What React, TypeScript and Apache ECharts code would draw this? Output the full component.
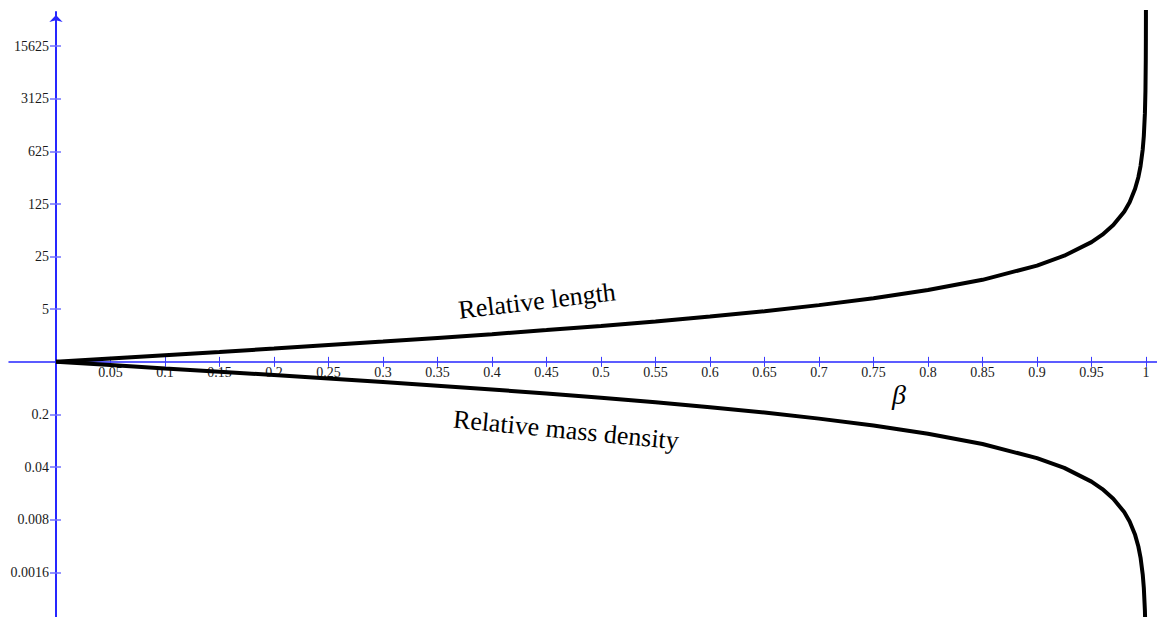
import React, { useEffect, useRef } from "react";
import * as echarts from "echarts";

// β values (x) at which the curves were read
const beta = [
  0, 0.05, 0.1, 0.15, 0.2, 0.25, 0.3, 0.35, 0.4, 0.45, 0.5, 0.55, 0.6, 0.65,
  0.7, 0.75, 0.8, 0.85, 0.9, 0.925, 0.95, 0.96, 0.97, 0.98, 0.985, 0.99,
  0.993, 0.995, 0.997, 0.998, 0.999, 0.9995, 0.9998, 0.9999, 0.99995, 0.99999,
];
// Relative length
const relativeLength = [
  1, 1.105, 1.22, 1.35, 1.5, 1.67, 1.86, 2.08, 2.33, 2.64, 3.0, 3.44, 4.0,
  4.71, 5.67, 7.0, 9.0, 12.3, 19, 25.7, 39, 49, 65.7, 99, 132, 199, 284, 399,
  665, 999, 1999, 3999, 9999, 19999, 39999, 199999,
];
// Relative mass density
const relativeMassDensity = [
  1, 0.905, 0.818, 0.741, 0.667, 0.6, 0.538, 0.481, 0.429, 0.379, 0.333, 0.29,
  0.25, 0.212, 0.176, 0.143, 0.111, 0.081, 0.0526, 0.039, 0.0256, 0.0204,
  0.0152, 0.0101, 0.00756, 0.00503, 0.00352, 0.00251, 0.0015, 0.001, 0.0005,
  0.00025, 0.0001, 0.00005, 0.000025, 0.000005,
];

// Axis tick values
const xTickValues = [
  0.05, 0.1, 0.15, 0.2, 0.25, 0.3, 0.35, 0.4, 0.45, 0.5, 0.55, 0.6, 0.65, 0.7,
  0.75, 0.8, 0.85, 0.9, 0.95, 1,
];
const yTickValues = [0.0016, 0.008, 0.04, 0.2, 5, 25, 125, 625, 3125, 15625];
const yTickLabels = ["0.0016", "0.008", "0.04", "0.2", "5", "25", "125", "625", "3125", "15625"];

const LOG_BASE = 5;
const log5 = (v: number) => Math.log(v) / Math.log(LOG_BASE);
const yTickExps = yTickValues.map((v) => Math.round(log5(v)));

const X_MIN = -0.0431;
const X_MAX = 1.0101;
const Y_MIN = -4.85;
const Y_MAX = 6.65;

const W = 1157;
const H = 617;
const GRID = { left: 9, right: 0, top: 12, bottom: 0 };

const AXIS_BLUE = "#2626ff";
const FONT = "'Liberation Serif', 'Times New Roman', serif";

export default function App() {
  const ref = useRef<HTMLDivElement>(null);

  useEffect(() => {
    if (!ref.current) return;
    const chart = echarts.init(ref.current, null, { renderer: "svg" });

    const lengthData = beta.map((b, i) => [b, log5(relativeLength[i])]);
    const densityData = beta.map((b, i) => [b, log5(relativeMassDensity[i])]);

    const yLabelFormatter = (v: number) => {
      const idx = yTickExps.indexOf(Math.round(v));
      return idx >= 0 ? yTickLabels[idx] : "";
    };

    // place the axes where the other axis is zero (x = 0, log-value = 0)
    const gridW = W - GRID.left - GRID.right;
    const gridH = H - GRID.top - GRID.bottom;
    const zeroFromLeft = (gridW * (0 - X_MIN)) / (X_MAX - X_MIN);
    const zeroFromBottom = (gridH * (0 - Y_MIN)) / (Y_MAX - Y_MIN);

    const baseX = {
      type: "value" as const,
      min: X_MIN,
      max: X_MAX,
      position: "bottom" as const,
      offset: -zeroFromBottom,
      splitLine: { show: false },
    };
    const baseY = {
      type: "value" as const,
      min: Y_MIN,
      max: Y_MAX,
      position: "left" as const,
      offset: -zeroFromLeft,
      splitLine: { show: false },
    };

    chart.setOption({
      animation: false,
      backgroundColor: "#ffffff",
      grid: { ...GRID, containLabel: false, outerBoundsMode: "none" },
      xAxis: [
        {
          ...baseX,
          axisLine: {
            show: true,
            onZero: false,
            lineStyle: { color: AXIS_BLUE, width: 1.5 },
          },
          axisTick: {
            show: true,
            inside: false,
            length: 5,
            customValues: xTickValues,
            lineStyle: { color: "#3a3aff", width: 1 },
          },
          axisLabel: {
            show: true,
            customValues: xTickValues,
            margin: 4,
            color: "#1a1a1a",
            fontFamily: FONT,
            fontSize: 14,
            showMinLabel: true,
            showMaxLabel: true,
            hideOverlap: false,
            formatter: (v: number) => String(v),
          },
        },
        {
          ...baseX,
          axisLine: {
            show: true,
            onZero: false,
            lineStyle: { color: AXIS_BLUE, width: 1.5, opacity: 0 },
          },
          axisTick: {
            show: true,
            inside: true,
            length: 5,
            customValues: xTickValues,
            lineStyle: { color: "#3a3aff", width: 1 },
          },
          axisLabel: { show: false },
        },
      ],
      yAxis: [
        {
          ...baseY,
          axisLine: {
            show: true,
            onZero: false,
            symbol: ["none", "arrow"],
            symbolSize: [10, 7],
            symbolOffset: [0, -3],
            lineStyle: { color: AXIS_BLUE, width: 2 },
          },
          axisTick: {
            show: true,
            inside: false,
            length: 6,
            customValues: yTickExps,
            lineStyle: { color: "#7070ff", width: 1.5 },
          },
          axisLabel: {
            show: true,
            customValues: yTickExps,
            margin: 7,
            color: "#1a1a1a",
            fontFamily: FONT,
            fontSize: 14,
            hideOverlap: false,
            formatter: yLabelFormatter,
          },
        },
        {
          ...baseY,
          axisLine: {
            show: true,
            onZero: false,
            lineStyle: { color: AXIS_BLUE, width: 2, opacity: 0 },
          },
          axisTick: {
            show: true,
            inside: true,
            length: 5,
            customValues: yTickExps,
            lineStyle: { color: "#7070ff", width: 1.5 },
          },
          axisLabel: { show: false },
        },
      ],
      series: [
        {
          name: "Relative length",
          type: "line",
          xAxisIndex: 0,
          yAxisIndex: 0,
          data: lengthData,
          showSymbol: false,
          clip: true,
          smooth: false,
          lineStyle: { color: "#000", width: 4 },
          z: 5,
        },
        {
          name: "Relative mass density",
          type: "line",
          xAxisIndex: 0,
          yAxisIndex: 0,
          data: densityData,
          showSymbol: false,
          clip: true,
          smooth: false,
          lineStyle: { color: "#000", width: 4 },
          z: 5,
        },
      ],
      graphic: [
        {
          type: "text",
          x: 537,
          y: 301,
          rotation: (6.8 * Math.PI) / 180,
          style: {
            text: "Relative length",
            fill: "#000",
            fontFamily: FONT,
            fontSize: 26,
            align: "center",
            verticalAlign: "middle",
          },
          z: 10,
        },
        {
          type: "text",
          x: 566,
          y: 430,
          rotation: (-5.5 * Math.PI) / 180,
          style: {
            text: "Relative mass density",
            fill: "#000",
            fontFamily: FONT,
            fontSize: 26,
            align: "center",
            verticalAlign: "middle",
          },
          z: 10,
        },
        {
          type: "text",
          x: 899,
          y: 394,
          style: {
            text: "β",
            fill: "#000",
            fontFamily: FONT,
            fontStyle: "italic",
            fontSize: 28,
            align: "center",
            verticalAlign: "middle",
          },
          z: 10,
        },
      ],
    });

    return () => {
      chart.dispose();
    };
  }, []);

  return (
    <div
      ref={ref}
      style={{ position: "fixed", left: 0, top: 0, width: W, height: H }}
    />
  );
}
